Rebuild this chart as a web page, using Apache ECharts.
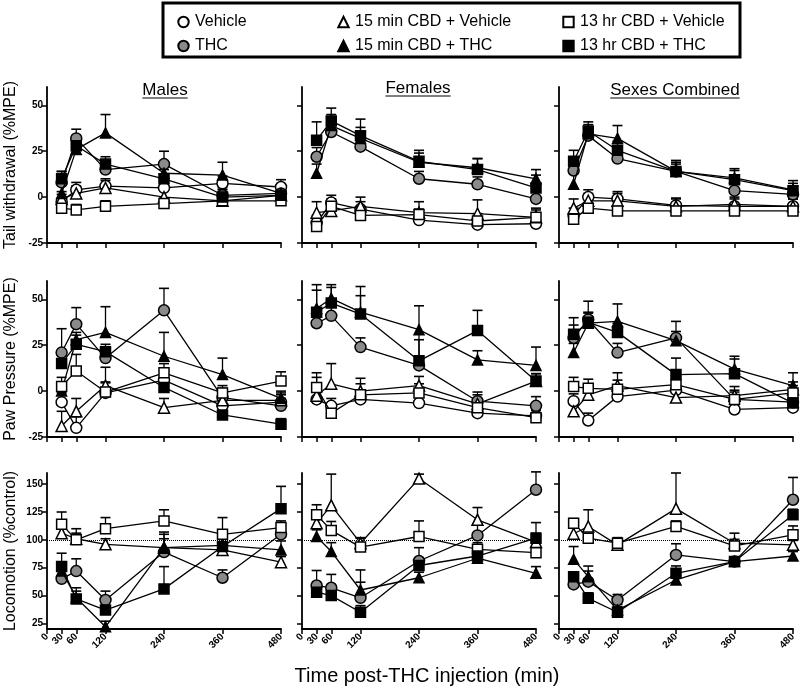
<!DOCTYPE html>
<html>
<head>
<meta charset="UTF-8">
<title>CBD / THC</title>
<style>
    html,body{margin:0;padding:0;background:#fff;}
    #main{width:800px;height:697px;}
</style>
</head>
<body>
<div id="main"></div>
<script src="https://cdn.jsdelivr.net/npm/echarts@6/dist/echarts.min.js"></script>
<script>
    // time points (min) and groups
    const times = [30, 60, 120, 240, 360, 480];
    const xTicks = [0, 30, 60, 120, 240, 360, 480];
    const groups = ['Vehicle', 'THC', '15 min CBD + Vehicle', '15 min CBD + THC', '13 hr CBD + Vehicle', '13 hr CBD + THC'];
    const colTitles = ['Males', 'Females', 'Sexes Combined'];
    const rowNames = ['Tail withdrawal (%MPE)', 'Paw Pressure (%MPE)', 'Locomotion (%control)'];
    const mpeTicks = [-25, 0, 25, 50];
    const locoTicks = [25, 50, 75, 100, 125, 150];

    // rows of each panel follow the groups order; second array = SEM (drawn upward)
    const tailMales = [
        [-2.5, 4, 6, 5, 7.5, 5.5],
        [8, 32, 15, 18, 1, 2],
        [-1, 2, 5, 0, -2, 1],
        [2, 26, 35, 13, 12, 2],
        [-6, -7, -5, -3.5, -2, -2],
        [10, 28, 18, 10, 0, 1]
    ];
    const tailMalesErr = [
        [4, 4, 4, 4, 4, 4], [6, 5, 5, 7, 4, 4], [4, 4, 4, 4, 4, 4],
        [5, 5, 10, 5, 7, 5], [3, 3, 3, 3, 3, 3], [4, 5, 4, 5, 4, 4]
    ];
    const tailFemales = [
        [-14, -3, -6.5, -12.5, -15, -14.5],
        [22, 35.5, 27.5, 10, 7, -1],
        [-8.5, -7.5, -5, -8.5, -9, -11],
        [13, 39, 32, 19, 16, 10],
        [-16, -5, -10, -9.5, -13, -11],
        [31, 41.5, 33.5, 19.5, 15, 5]
    ];
    const tailFemalesErr = [
        [4, 4, 4, 4, 4, 4], [5, 4, 4, 4, 4, 4], [6, 5, 5, 6, 7.5, 5],
        [5, 6, 6, 5, 5, 5], [3, 4, 4, 3, 4, 4], [10, 7, 9, 6, 6, 7]
    ];
    const tailCombined = [
        [-10, 0, -1, -4.5, -5, -5],
        [14.5, 33.5, 21, 14, 3.5, 1.5],
        [-6, -2, -2, -5, -4, -5],
        [7, 34.5, 32, 14, 10.5, 4],
        [-12, -6, -7.5, -7.5, -7.5, -7.5],
        [19.5, 36, 25.5, 14, 9.5, 3.5]
    ];
    const tailCombinedErr = [
        [4, 4, 4, 4, 4, 4], [5, 4, 4, 4, 4, 3], [5, 4, 4, 4, 4, 4],
        [6, 5, 7, 6, 5, 5], [3, 3, 3, 3, 3, 3], [6, 5, 5, 5, 5, 4]
    ];
    const pawMales = [
        [-6, -20, -1, 6, -8, -6],
        [21, 36.5, 18, 44, -3.5, -8],
        [-19, -11, 3, -9, -5, -5],
        [0, 28, 32, 19, 9, -4],
        [2.5, 11, -0.5, 10, -1, 5.5],
        [15, 25.5, 21.5, 2, -13, -18]
    ];
    const pawMalesErr = [
        [5, 6, 6, 5, 4, 4], [13, 9, 6, 12, 5, 4], [8, 7, 10, 5, 4, 4],
        [5, 4, 14, 13, 9, 4], [5, 9, 5, 5, 4, 5], [5, 5, 4, 5, 4, 3]
    ];
    const pawFemales = [
        [-4.5, -8, -4.5, -6.5, -12, -13.5],
        [37, 41, 24, 14, -5.5, -8],
        [-2.5, 4, 0, 3, -7, 5.5],
        [45, 50.5, 43, 33.5, 17, 14],
        [2, -12, -2, -1, -9, -14.5],
        [43, 48, 42, 16.5, 33, 5.5]
    ];
    const pawFemalesErr = [
        [4, 4, 4, 4, 4, 4], [5, 5, 5, 14, 5, 5], [10, 11, 7, 5, 5, 4],
        [10, 6, 14, 13, 5, 10], [8, 5, 6, 5, 5, 4], [15, 10, 10, 14.5, 11, 4]
    ];
    const pawCombined = [
        [-5.5, -16, -3, 0.5, -10, -9],
        [29, 39, 21, 29, -4.5, -6],
        [-11, -2, 3, -3.5, -2.5, 1],
        [21, 37, 38, 27.5, 12, 3],
        [2.5, 1.5, 1, 3.5, -4.5, -1],
        [31, 37.5, 32, 9, 9.5, -6.5]
    ];
    const pawCombinedErr = [
        [4, 4, 4, 4, 4, 4], [11, 10, 5, 9, 5, 4], [5, 5, 7, 4, 5, 4],
        [5, 6, 9.5, 5, 7, 7], [5, 5, 5, 4, 4, 4], [5, 5, 5, 9, 8, 4]
    ];
    // locomotion is % of vehicle, so the vehicle group is the dotted 100 line
    const locoMales = [
        null,
        [65, 72, 46, 89, 66, 105],
        [106, 101, 96, 93, 91, 80],
        [72, 48, 22, 93, 95, 91],
        [114, 100, 110, 117, 105, 111],
        [76, 47, 37, 56, 94, 128]
    ];
    const locoMalesErr = [
        null, [8, 11, 8, 18, 7, 10], [5, 5, 5, 8, 5, 5],
        [6, 6, 5, 12, 8, 8], [11, 10, 10, 10, 15, 6], [12, 10, 8, 20, 8, 20]
    ];
    const locoFemales = [
        null,
        [59, 57, 48, 81, 104, 145],
        [115, 131, 97, 155, 118, 98],
        [103, 89.5, 55, 66, 83.5, 70],
        [122.5, 108.5, 93.5, 103, 91.5, 88.5],
        [53, 50, 35, 77, 85.5, 101.5]
    ];
    const locoFemalesErr = [
        null, [13.5, 12, 25, 12, 10, 16], [6, 28, 5, 4, 11, 8],
        [6, 8, 7, 5, 5, 6], [9, 8, 8, 14, 6, 15], [5, 6, 6, 6, 5, 14]
    ];
    const locoCombined = [
        null,
        [60, 62.5, 46, 86.5, 80.5, 136],
        [105.5, 112, 95.5, 128, 97, 95.5],
        [82.5, 67, 37, 64, 80.5, 85.5],
        [115, 101.5, 97, 112, 94.5, 104.5],
        [67, 47.5, 35, 70, 80.5, 122.5]
    ];
    const locoCombinedErr = [
        null, [5, 14, 5, 10, 4, 20], [6, 15, 5, 32, 9, 4],
        [11.5, 5, 5, 5, 4, 4], [4, 4, 5, 5, 6, 8], [4, 5, 5, 6.6, 4, 5]
    ];

    const panels = [
        [tailMales, tailMalesErr], [tailFemales, tailFemalesErr], [tailCombined, tailCombinedErr],
        [pawMales, pawMalesErr], [pawFemales, pawFemalesErr], [pawCombined, pawCombinedErr],
        [locoMales, locoMalesErr], [locoFemales, locoFemalesErr], [locoCombined, locoCombinedErr]
    ];

    const FONT = "'Liberation Sans', Arial, sans-serif";
    const colLeft = [47, 302, 559];
    const rowTop = [87, 281, 473];
    const plotW = 234, plotH = 156;

    const symbols = ['circle', 'circle', 'triangle', 'triangle', 'rect', 'rect'];
    const fills = ['#fff', '#8a8a8a', '#fff', '#000', '#fff', '#000'];
    const sizes = [11, 11, 11, 10, 10, 10];

    let grids = [], xAxes = [], yAxes = [], series = [];

    panels.forEach(function (pn, p) {
        const r = Math.floor(p / 3), c = p % 3;
        const vals = pn[0], errs = pn[1];
        grids.push({left: colLeft[c], top: rowTop[r], width: plotW, height: plotH});
        xAxes.push({
            type: 'value', gridIndex: p, min: 0, max: 480,
            axisLine: {onZero: false, lineStyle: {color: '#000', width: 1.8}},
            axisTick: {show: true, length: 5, customValues: xTicks, lineStyle: {color: '#000', width: 1.5}},
            axisLabel: {
                show: r === 2, customValues: xTicks, rotate: 45, margin: 6,
                color: '#000', fontSize: 10, fontWeight: 'bold', fontFamily: FONT
            },
            splitLine: {show: false}
        });
        const ticks = r === 2 ? locoTicks : mpeTicks;
        yAxes.push({
            type: 'value', gridIndex: p,
            min: r === 2 ? 20 : -25, max: r === 2 ? 160 : 60,
            name: c === 0 ? rowNames[r] : '',
            nameLocation: 'middle', nameGap: 28,
            nameTextStyle: {fontSize: 16, color: '#000', fontFamily: FONT},
            axisLine: {show: true, onZero: false, lineStyle: {color: '#000', width: 1.8}},
            axisTick: {show: true, length: 5, customValues: ticks, lineStyle: {color: '#000', width: 1.5}},
            axisLabel: {
                show: c === 0, customValues: ticks, margin: 4,
                color: '#000', fontSize: 10, fontWeight: 'bold', fontFamily: FONT
            },
            splitLine: {show: false}
        });

        // error bars (upper SEM)
        let errData = [];
        for (let g = 0; g < groups.length; g++) {
            if (!vals[g]) continue;
            for (let i = 0; i < times.length; i++) {
                errData.push([times[i], vals[g][i], errs[g][i]]);
            }
        }
        series.push({
            type: 'custom', xAxisIndex: p, yAxisIndex: p, z: 1, silent: true,
            data: errData,
            encode: {x: 0, y: 1},
            renderItem: function (params, api) {
                const x = api.value(0), y = api.value(1), e = api.value(2);
                const a = api.coord([x, y]);
                const b = api.coord([x, y + e]);
                return {
                    type: 'group',
                    children: [
                        {type: 'line', shape: {x1: a[0], y1: a[1], x2: b[0], y2: b[1]}, style: {stroke: '#000', lineWidth: 1.3}},
                        {type: 'line', shape: {x1: b[0] - 5, y1: b[1], x2: b[0] + 5, y2: b[1]}, style: {stroke: '#000', lineWidth: 1.6}}
                    ]
                };
            }
        });

        for (let g = 0; g < groups.length; g++) {
            if (!vals[g]) continue;
            let s = {
                name: groups[g], type: 'line', xAxisIndex: p, yAxisIndex: p, z: 3 + g,
                data: times.map(function (t, i) { return [t, vals[g][i]]; }),
                symbol: symbols[g], symbolSize: sizes[g], showSymbol: true,
                itemStyle: {color: fills[g], borderColor: '#000', borderWidth: 1.5},
                lineStyle: {color: '#000', width: 1.3},
                emphasis: {disabled: true}
            };
            if (r === 2 && g === 1) {
                s.markLine = {
                    silent: true, symbol: 'none', label: {show: false},
                    lineStyle: {color: '#000', type: 'dotted', width: 1},
                    data: [{yAxis: 100}]
                };
            }
            series.push(s);
        }
    });

    // legend with three columns inside one box
    const legendCols = [[groups[0], groups[1]], [groups[2], groups[3]], [groups[4], groups[5]]];
    const legendLeft = [171, 331, 556];
    const legends = legendCols.map(function (d, i) {
        return {
            data: d, left: legendLeft[i], top: 9, orient: 'vertical',
            itemWidth: 13, itemHeight: 13, itemGap: 8, selectedMode: false,
            lineStyle: {opacity: 0},
            textStyle: {fontSize: 16, color: '#000', fontFamily: FONT}
        };
    });

    // column titles, underlined
    const measure = document.createElement('canvas').getContext('2d');
    measure.font = '17px ' + FONT;
    const titleX = [165, 418, 675];
    const titleY = [90, 88, 90];
    let graphic = [{
        type: 'rect', shape: {x: 163, y: 3, width: 577, height: 54},
        style: {fill: 'none', stroke: '#000', lineWidth: 3}
    }];
    colTitles.forEach(function (t, i) {
        const w = measure.measureText(t).width;
        graphic.push({
            type: 'text', x: titleX[i], y: titleY[i],
            style: {text: t, font: '17px ' + FONT, fill: '#000', align: 'center', verticalAlign: 'middle'}
        });
        graphic.push({
            type: 'line', shape: {x1: titleX[i] - w / 2, y1: titleY[i] + 8, x2: titleX[i] + w / 2, y2: titleY[i] + 8},
            style: {stroke: '#000', lineWidth: 1}
        });
    });
    graphic.push({
        type: 'text', x: 427, y: 676,
        style: {text: 'Time post-THC injection (min)', font: '20px ' + FONT, fill: '#000', align: 'center', verticalAlign: 'middle'}
    });

    const myChart = echarts.init(document.getElementById('main'), null, {renderer: 'canvas'});
    myChart.setOption({
        animation: false,
        backgroundColor: '#fff',
        legend: legends,
        grid: grids,
        xAxis: xAxes,
        yAxis: yAxes,
        series: series,
        graphic: graphic
    });
</script>
</body>
</html>
